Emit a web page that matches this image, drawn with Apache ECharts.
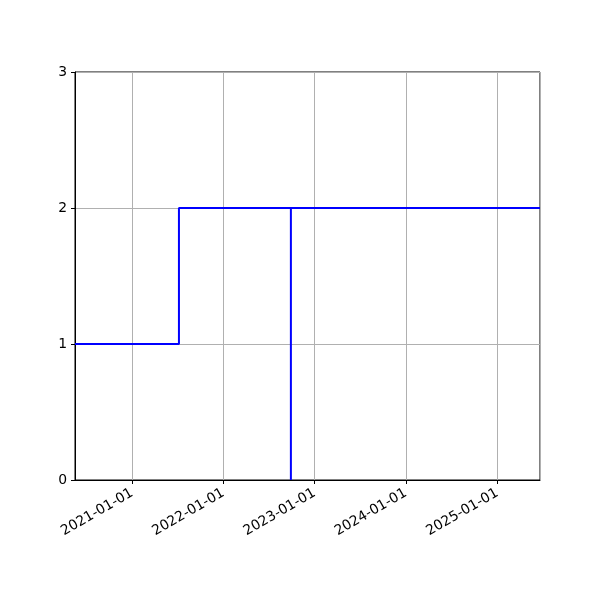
<!DOCTYPE html>
<html>
<head>
    <meta charset="UTF-8">
    <title>step</title>
    <style>
        html, body { margin: 0; padding: 0; background: #fff; }
    </style>
</head>
<body>

<script src="https://cdn.jsdelivr.net/npm/echarts@6/dist/echarts.min.js"></script>

<div id="chartDom" style="width: 600px;height:600px;"></div>

<script type="text/javascript">
    // data
    var dates = ['2020-05-17', '2021-07-07', '2022-09-28', '2022-09-28', '2025-06-21'];
    var values = [1, 2, 0, 2, 2];
    var yTicks = [0, 1, 2, 3];

    var myChart = echarts.init(document.getElementById('chartDom'));

    var pts = dates.map(function (d, i) {
        return [d, values[i]];
    });

    var option = {
        backgroundColor: '#fff',
        animation: false,
        grid: {
            left: 75,
            right: 60,
            top: 72,
            bottom: 120,
            show: true,
            borderColor: '#000',
            borderWidth: 1
        },
        xAxis: {
            type: 'time',
            min: dates[0],
            max: dates[dates.length - 1],
            minInterval: 365 * 24 * 3600 * 1000,
            maxInterval: 366 * 24 * 3600 * 1000,
            axisLine: { lineStyle: { color: '#000', width: 1 } },
            axisTick: { show: true, length: 4, lineStyle: { color: '#000' } },
            axisLabel: {
                rotate: 30,
                color: '#000',
                fontFamily: 'DejaVu Sans',
                fontSize: 13.9,
                margin: 12,
                formatter: '{yyyy}-{MM}-{dd}',
                showMinLabel: false,
                showMaxLabel: false
            },
            splitLine: { show: true, lineStyle: { color: '#b0b0b0', width: 1 } }
        },
        yAxis: {
            type: 'value',
            min: yTicks[0],
            max: yTicks[yTicks.length - 1],
            interval: 1,
            axisLine: { show: true, lineStyle: { color: '#000', width: 1 } },
            axisTick: { show: true, length: 4, lineStyle: { color: '#000' } },
            axisLabel: {
                color: '#000',
                fontFamily: 'DejaVu Sans',
                fontSize: 13.9,
                margin: 8
            },
            splitLine: { show: true, lineStyle: { color: '#b0b0b0', width: 1 } }
        },
        series: [{
            type: 'line',
            step: 'end',
            data: pts,
            showSymbol: false,
            symbol: 'none',
            lineStyle: { color: '#0000ff', width: 2 }
        }]
    };

    myChart.setOption(option);
</script>
</body>
</html>
